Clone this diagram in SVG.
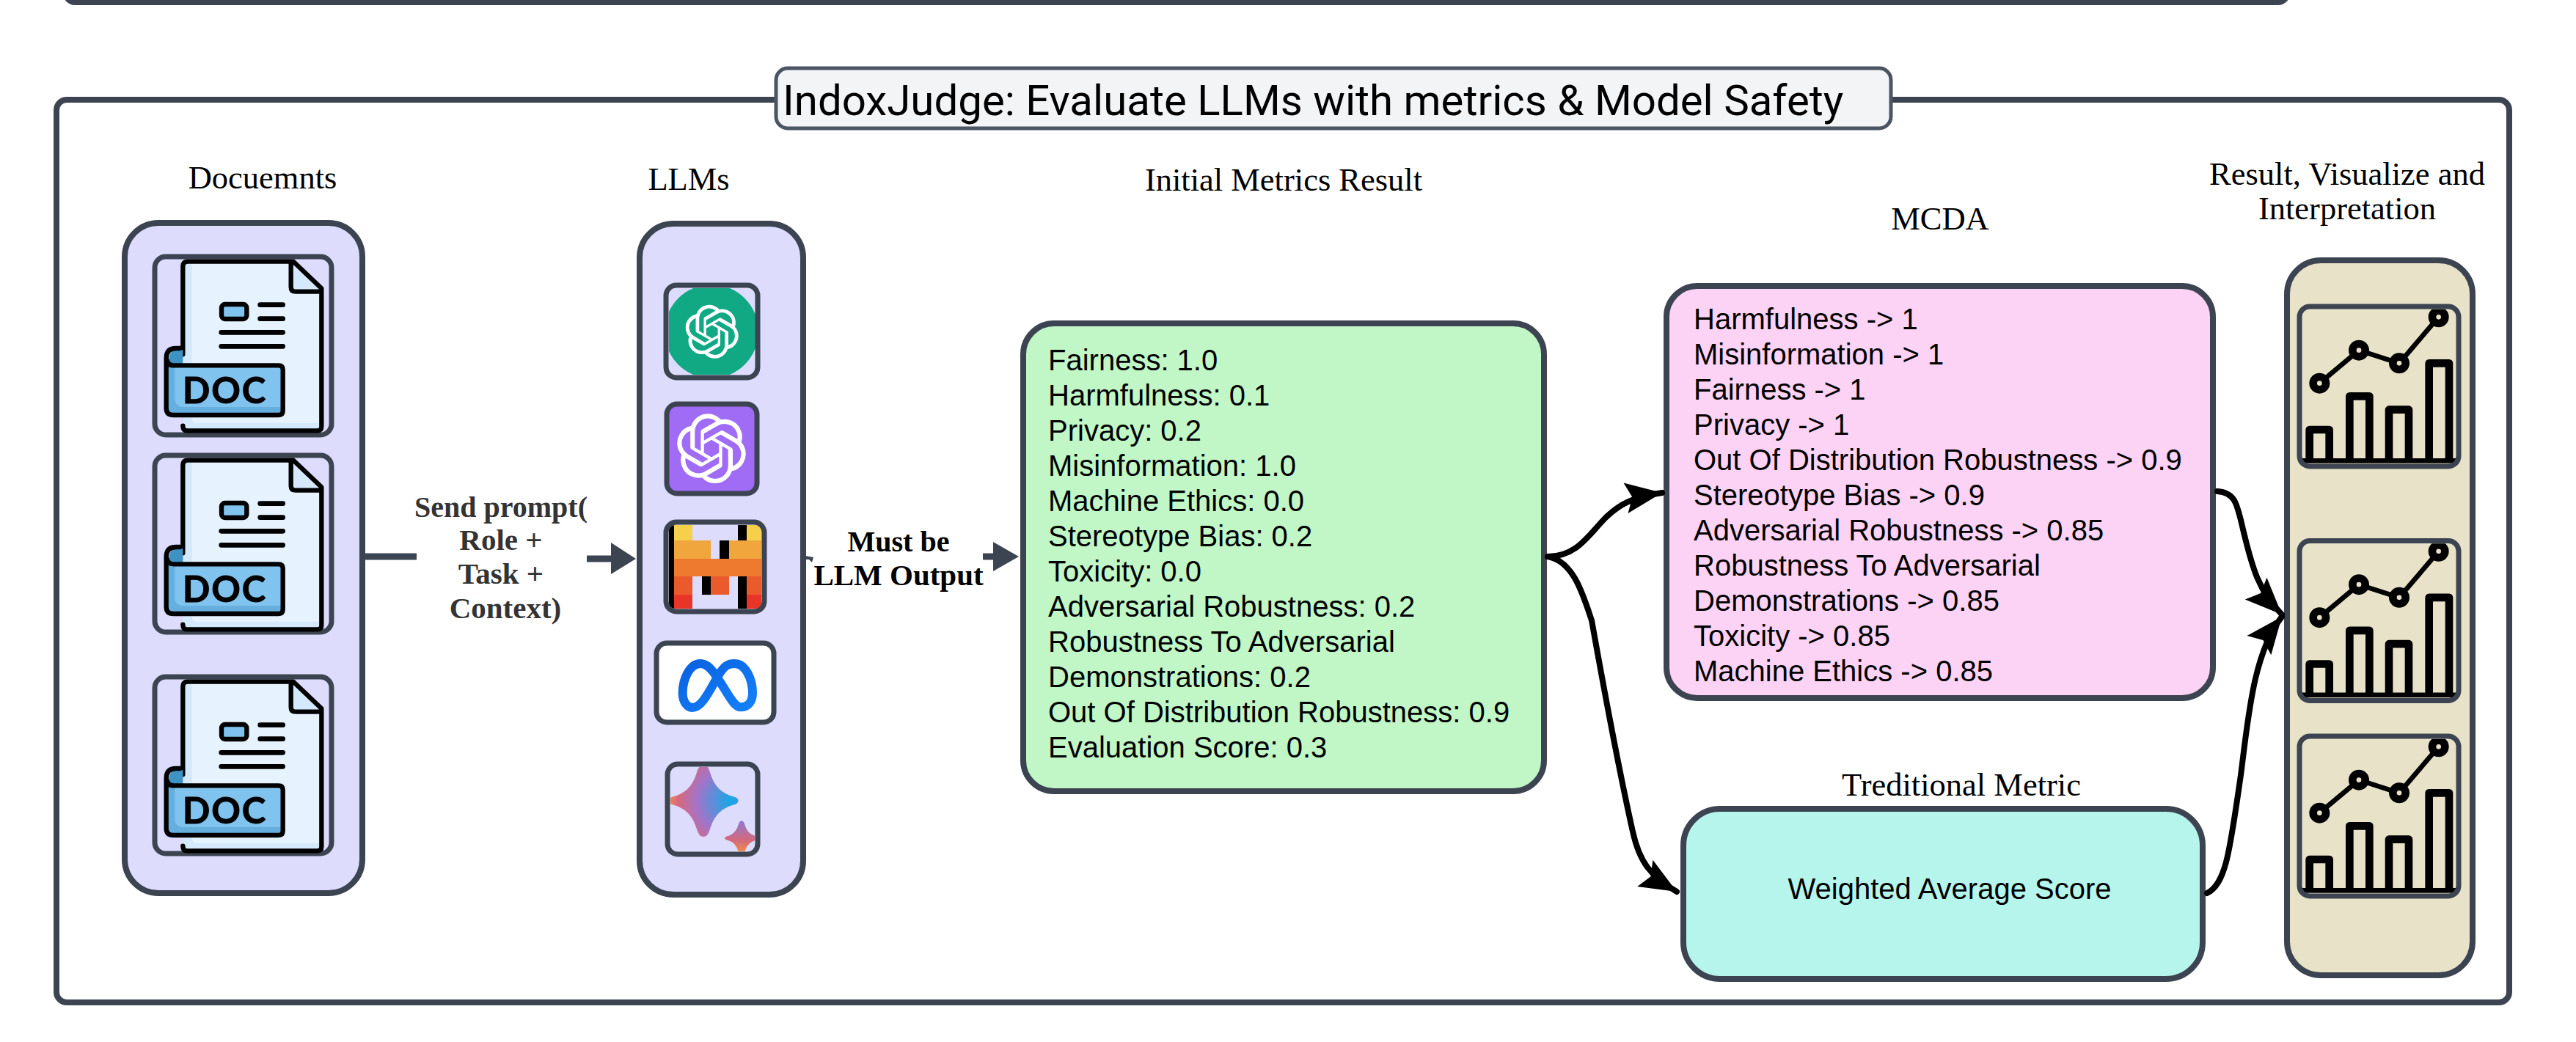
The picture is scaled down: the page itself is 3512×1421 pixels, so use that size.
<svg xmlns="http://www.w3.org/2000/svg" xmlns:xlink="http://www.w3.org/1999/xlink" width="3512" height="1421" viewBox="0 0 3512 1421">
<style>
.panel{stroke:#3d4451;stroke-width:8}
.box{fill:none;stroke:#3d4451;stroke-width:7}
.t{font-family:"Liberation Sans",Arial,sans-serif;font-size:40px;fill:#000}
.h{font-family:"Liberation Serif","Times New Roman",serif;font-size:44.500px;fill:#000;text-anchor:middle}
.b{font-family:"Liberation Serif","Times New Roman",serif;font-size:41px;font-weight:700;text-anchor:middle}
.arr{fill:none;stroke:#3d4451;stroke-width:9}
.cv{fill:none;stroke:#000;stroke-width:8;stroke-linecap:round}
.head{fill:#3d4451}
.doc{font-family:"Lato","Noto Sans",sans-serif;font-size:49px;font-weight:700;fill:#000;letter-spacing:2px;stroke:#000;stroke-width:1}
</style>
<defs>
<marker id="blk" markerUnits="userSpaceOnUse" markerWidth="56" markerHeight="46" refX="50" refY="23" orient="auto"><path d="M0,2 L50,23 L0,44 L9,23Z" fill="#000"/></marker>
<path id="knot" fill="#fff" transform="translate(-12,-12)" d="M22.2819 9.8211a5.9847 5.9847 0 0 0-.5157-4.9108 6.0462 6.0462 0 0 0-6.5098-2.9A6.0651 6.0651 0 0 0 4.9807 4.1818a5.9847 5.9847 0 0 0-3.9977 2.9 6.0462 6.0462 0 0 0 .7427 7.0966 5.98 5.98 0 0 0 .511 4.9107 6.051 6.051 0 0 0 6.5146 2.9001A5.9847 5.9847 0 0 0 13.2599 24a6.0557 6.0557 0 0 0 5.7718-4.2058 5.9894 5.9894 0 0 0 3.9977-2.9001 6.0557 6.0557 0 0 0-.7475-7.0729zm-9.022 12.6081a4.4755 4.4755 0 0 1-2.8764-1.0408l.1419-.0804 4.7783-2.7582a.7948.7948 0 0 0 .3927-.6813v-6.7369l2.02 1.1686a.071.071 0 0 1 .038.052v5.5826a4.504 4.504 0 0 1-4.4945 4.4944zm-9.6607-4.1254a4.4708 4.4708 0 0 1-.5346-3.0137l.142.0852 4.783 2.7582a.7712.7712 0 0 0 .7806 0l5.8428-3.3685v2.3324a.0804.0804 0 0 1-.0332.0615L9.74 19.9502a4.4992 4.4992 0 0 1-6.1408-1.6464zM2.3408 7.8956a4.485 4.485 0 0 1 2.3655-1.9728V11.6a.7664.7664 0 0 0 .3879.6765l5.8144 3.3543-2.0201 1.1685a.0757.0757 0 0 1-.071 0l-4.8303-2.7865A4.504 4.504 0 0 1 2.3408 7.872zm16.5963 3.8558L13.1038 8.364 15.1192 7.2a.0757.0757 0 0 1 .071 0l4.8303 2.7913a4.4944 4.4944 0 0 1-.6765 8.1042v-5.6772a.79.79 0 0 0-.407-.667zm2.0107-3.0231l-.142-.0852-4.7735-2.7818a.7759.7759 0 0 0-.7854 0L9.409 9.2297V6.8974a.0662.0662 0 0 1 .0284-.0615l4.8303-2.7866a4.4992 4.4992 0 0 1 6.6802 4.66zM8.3065 12.863l-2.02-1.1638a.0804.0804 0 0 1-.038-.0567V6.0742a4.4992 4.4992 0 0 1 7.3757-3.4537l-.142.0805L8.704 5.459a.7948.7948 0 0 0-.3927.6813zm1.0976-2.3654l2.602-1.4998 2.6069 1.4998v2.9994l-2.5974 1.4997-2.6067-1.4997Z"/>
<g id="docicon">
<path d="M180,80 H625 L745,190 V772 H180Z" fill="#d5e9fd"/>
<path d="M215,85 H620 V200 H738 V740 H235 Q215,740 215,720Z" fill="#e6f3ff"/>
<path d="M628,90 L735,195 H628Z" fill="#d5e9fd"/>
<path d="M178,460 V100 Q178,80 198,80 H630 L745,190 V755 Q745,772 728,772 H195 Q178,772 178,752" fill="none" stroke="#000" stroke-width="19" stroke-linecap="round" stroke-linejoin="round"/>
<path d="M620,85 V185 Q620,203 640,203 H745" fill="none" stroke="#000" stroke-width="19"/>
<rect x="336" y="255" width="103" height="60" rx="14" fill="#80c3ee" stroke="#000" stroke-width="19"/>
<path d="M494,257 H587 M494,314 H587 M335,370 H587 M335,427 H587" stroke="#000" stroke-width="20" stroke-linecap="round"/>
<path d="M120,490 Q120,445 150,442 H178 V500 H130Z" fill="#3d93c4"/>
<path d="M112,480 V680 Q112,708 140,708 H570 Q587,708 587,690 V522 Q587,505 570,505 H135 Q112,505 112,480Z" fill="#80c3ee"/>
<path d="M120,510 H145 V640 Q145,675 180,675 H580 V700 H135 L118,680Z" fill="#66aedd"/>
<path d="M170,435 H150 Q110,435 110,475 V680 Q110,708 140,708 H570 Q587,708 587,690 V522 Q587,505 570,505 H140 Q115,505 112,480" fill="none" stroke="#000" stroke-width="19" stroke-linejoin="round"/>
</g>
<g id="charticon">
<path d="M157,368 L318,233 L483,286 L644,97" fill="none" stroke="#000" stroke-width="20"/>
<g fill="#e7e2c8" stroke="#000" stroke-width="32"><circle cx="157" cy="368" r="26"/><circle cx="318" cy="233" r="26"/><circle cx="483" cy="286" r="26"/><circle cx="644" cy="97" r="26"/></g>
<g fill="none" stroke="#000" stroke-width="32" stroke-linejoin="round"><path d="M116,690 V558 H197 V690"/><path d="M280,690 V421 H361 V690"/><path d="M441,690 V476 H522 V690"/><path d="M605,690 V286 H687 V690"/></g>
<rect x="86" y="675" width="630" height="20" fill="#000"/>
</g>
<clipPath id="cc1"><rect x="912" y="393" width="118" height="118" rx="8"/></clipPath>
<clipPath id="cch"><rect x="86" y="65" width="630" height="632" rx="22"/></clipPath>
<clipPath id="cgem"><rect x="914" y="1046" width="115" height="115" rx="8"/></clipPath>
<clipPath id="cllama"><rect x="912" y="716" width="126" height="114" rx="8"/></clipPath>
<radialGradient id="gs1" cx=".88" cy=".5" r=".95"><stop offset="0" stop-color="#15a8e8"/><stop offset=".5" stop-color="#a374c8"/><stop offset=".78" stop-color="#d9687c"/><stop offset="1" stop-color="#f79a3a"/></radialGradient>
<linearGradient id="gs2" x1="0" y1="0" x2="0" y2="1"><stop offset="0" stop-color="#8f7ad0"/><stop offset=".55" stop-color="#d2697e"/><stop offset="1" stop-color="#f8963a"/></linearGradient>
<linearGradient id="gm" x1="0" y1="0" x2="1" y2="1"><stop offset="0" stop-color="#0a62e0"/><stop offset="1" stop-color="#1480fa"/></linearGradient>
<path id="star" d="M0,-50 C5,-50 7,-46 9,-40 C15,-20 25,-10 44,-5 C50,-3 50,3 44,5 C25,10 15,20 9,40 C7,46 5,50 0,50 C-5,50 -7,46 -9,40 C-15,20 -25,10 -44,5 C-50,3 -50,-3 -44,-5 C-25,-10 -15,-20 -9,-40 C-7,-46 -5,-50 0,-50Z"/>
</defs>
<rect width="3512" height="1421" fill="#fff"/>
<g id="top-bar"><rect x="90" y="-40" width="3028" height="43" rx="12" fill="#fff" class="panel"/></g>
<g id="frame"><rect x="77" y="136" width="3344" height="1231" rx="14" fill="#fff" class="panel"/></g>
<g id="title"><rect x="1058" y="93" width="1520" height="82" rx="16" fill="#f3f4f6" stroke="#4b5563" stroke-width="5"/><text x="1067" y="157" font-family="Roboto,sans-serif" font-size="58.200" fill="#000">IndoxJudge: Evaluate LLMs with metrics &amp; Model Safety</text></g>

<g id="documents">
<text class="h" x="358" y="257">Docuemnts</text>
<rect x="170" y="304" width="324" height="914" rx="46" fill="#dddcfd" class="panel"/>
<g id="doc-1"><rect x="211" y="350" width="241" height="243" rx="15" class="box"/><use href="#docicon" transform="translate(190,330) scale(.33333)"/><text class="doc" x="249" y="550">DOC</text></g>
<g id="doc-2"><rect x="211" y="621" width="241" height="241" rx="15" class="box"/><use href="#docicon" transform="translate(190,601) scale(.33333)"/><text class="doc" x="249" y="821">DOC</text></g>
<g id="doc-3"><rect x="211" y="923" width="241" height="241" rx="15" class="box"/><use href="#docicon" transform="translate(190,903) scale(.33333)"/><text class="doc" x="249" y="1123">DOC</text></g>
</g>

<g id="send-label" fill="#333"><text class="b" x="683" y="705" style="font-size:40px">Send prompt(</text><text class="b" x="683" y="750">Role +</text><text class="b" x="683" y="796">Task +</text><text class="b" x="689" y="843">Context)</text></g>

<g id="llms">
<text class="h" x="939" y="259">LLMs</text>
<rect x="872" y="305" width="223" height="915" rx="46" fill="#dddcfd" class="panel"/>
<g id="llm-openai-green"><g clip-path="url(#cc1)"><circle cx="970" cy="452" r="64" fill="#10a984"/></g><rect x="908" y="389" width="125" height="126" rx="14" class="box"/><use href="#knot" transform="translate(970.700,452.300) scale(3.04)"/></g>
<g id="llm-openai-purple"><rect x="909" y="551" width="123" height="122" rx="14" class="box" style="fill:#a06cf5"/><use href="#knot" transform="translate(970,611.700) scale(3.95)"/></g>
<g id="llm-mistral">
<g clip-path="url(#cllama)">
<rect x="912" y="716" width="8" height="114" fill="#000"/>
<rect x="919" y="716" width="25" height="21" fill="#f6d04a"/><rect x="1018" y="716" width="20" height="21" fill="#f6d04a"/><rect x="1006" y="716" width="12" height="21" fill="#000"/>
<rect x="919" y="737" width="50" height="25" fill="#f0a63c"/><rect x="994" y="737" width="44" height="25" fill="#f0a63c"/><rect x="981" y="737" width="13" height="25" fill="#000"/>
<rect x="919" y="762" width="119" height="24" fill="#ee7a2f"/>
<rect x="919" y="786" width="25" height="25" fill="#eb5a2c"/><rect x="957" y="786" width="12" height="25" fill="#000"/><rect x="969" y="786" width="25" height="25" fill="#eb5a2c"/><rect x="1006" y="786" width="12" height="44" fill="#000"/><rect x="1018" y="786" width="20" height="25" fill="#eb5a2c"/>
<rect x="919" y="811" width="25" height="19" fill="#e93528"/><rect x="1018" y="811" width="20" height="19" fill="#e93528"/>
</g>
<rect x="908" y="712" width="134" height="122" rx="14" class="box"/></g>
<g id="llm-meta"><rect x="895" y="877" width="160" height="108" rx="14" class="box" style="fill:#fff"/><path transform="translate(860,690) scale(.33333)" d="M450,823 C420,823 400,770 355,705 C330,665 310,645 285,645 C240,645 212,710 212,765 C212,800 230,825 252,825 C290,825 320,760 360,690 C385,650 400,645 425,645 C470,645 498,710 498,765 C498,800 480,823 450,823Z" fill="none" stroke="url(#gm)" stroke-width="36"/></g>
<g id="llm-gemini"><g clip-path="url(#cgem)"><use href="#star" transform="translate(959,1092) scale(.98)" fill="url(#gs1)"/><use href="#star" transform="translate(1011,1143) scale(.47)" fill="url(#gs2)"/></g><rect x="910" y="1042" width="123" height="123" rx="14" class="box"/></g>
</g>

<g id="arrow-labels"><text class="b" x="1225" y="752" fill="#000" style="font-size:40px">Must be</text><text class="b" x="1225" y="798" fill="#000">LLM Output</text></g>

<g id="initial-metrics">
<text class="h" x="1750" y="260">Initial Metrics Result</text>
<rect x="1395" y="441" width="710" height="638" rx="42" fill="#c1f7c6" class="panel"/>
<text class="t" x="1429" y="505">Fairness: 1.0</text>
<text class="t" x="1429" y="553">Harmfulness: 0.1</text>
<text class="t" x="1429" y="601">Privacy: 0.2</text>
<text class="t" x="1429" y="649">Misinformation: 1.0</text>
<text class="t" x="1429" y="697">Machine Ethics: 0.0</text>
<text class="t" x="1429" y="745">Stereotype Bias: 0.2</text>
<text class="t" x="1429" y="793">Toxicity: 0.0</text>
<text class="t" x="1429" y="841">Adversarial Robustness: 0.2</text>
<text class="t" x="1429" y="889">Robustness To Adversarial</text>
<text class="t" x="1429" y="937">Demonstrations: 0.2</text>
<text class="t" x="1429" y="985">Out Of Distribution Robustness: 0.9</text>
<text class="t" x="1429" y="1033">Evaluation Score: 0.3</text>
</g>

<g id="mcda">
<text class="h" x="2645" y="313">MCDA</text>
<rect x="2272" y="390" width="745" height="562" rx="42" fill="#fcd3f4" class="panel"/>
<text class="t" x="2309" y="449">Harmfulness -&gt; 1</text>
<text class="t" x="2309" y="497">Misinformation -&gt; 1</text>
<text class="t" x="2309" y="545">Fairness -&gt; 1</text>
<text class="t" x="2309" y="593">Privacy -&gt; 1</text>
<text class="t" x="2309" y="641">Out Of Distribution Robustness -&gt; 0.9</text>
<text class="t" x="2309" y="689">Stereotype Bias -&gt; 0.9</text>
<text class="t" x="2309" y="737">Adversarial Robustness -&gt; 0.85</text>
<text class="t" x="2309" y="785">Robustness To Adversarial</text>
<text class="t" x="2309" y="833">Demonstrations -&gt; 0.85</text>
<text class="t" x="2309" y="881">Toxicity -&gt; 0.85</text>
<text class="t" x="2309" y="929">Machine Ethics -&gt; 0.85</text>
</g>

<g id="traditional">
<text class="h" x="2674" y="1085">Treditional Metric</text>
<rect x="2295" y="1103" width="708" height="232" rx="50" fill="#b6f5ec" class="panel"/>
<text class="t" x="2658" y="1226" text-anchor="middle">Weighted Average Score</text>
</g>

<g id="results">
<text class="h" x="3200" y="252">Result, Visualize and</text>
<text class="h" x="3200" y="299">Interpretation</text>
<rect x="3118" y="355" width="253" height="975" rx="46" fill="#e7e2c8" class="panel"/>
<g id="chart-1"><g clip-path="url(#cch)" transform="translate(3110,400) scale(.33333)"><use href="#charticon"/></g><rect x="3135" y="418" width="217" height="218" rx="14" class="box"/></g>
<g id="chart-2"><g clip-path="url(#cch)" transform="translate(3110,719.500) scale(.33333)"><use href="#charticon"/></g><rect x="3135" y="737.500" width="217" height="218" rx="14" class="box"/></g>
<g id="chart-3"><g clip-path="url(#cch)" transform="translate(3110,986) scale(.33333)"><use href="#charticon"/></g><rect x="3135" y="1004" width="217" height="218" rx="14" class="box"/></g>
</g>

<g id="connectors">
<path class="arr" d="M498,759 H568"/>
<path class="arr" d="M800,762 H836"/><path class="head" d="M833,740 L867,762 L833,783Z"/>
<path d="M1098,758 L1109,760 L1107,767 L1103,763 L1098,763Z" fill="#3d4451"/>
<path class="arr" d="M1340,759 H1358"/><path class="head" d="M1354,739 L1389,759 L1354,779Z"/>
<path class="cv" d="M2110,759 C2150,759 2165,730 2190,705 C2208,688 2225,678 2266,672" marker-end="url(#blk)"/>
<path class="cv" d="M2110,759 C2145,765 2158,810 2170,846 C2185,930 2205,1040 2226,1134 C2235,1175 2250,1195 2286,1216" marker-end="url(#blk)"/>
<path class="cv" d="M3023,670 C3050,672 3050,690 3060,730 C3070,770 3078,805 3111,838" marker-end="url(#blk)"/>
<path class="cv" d="M3009,1218 C3035,1205 3040,1160 3055,1057 C3065,980 3072,890 3111,841" marker-end="url(#blk)"/>
</g>
</svg>
